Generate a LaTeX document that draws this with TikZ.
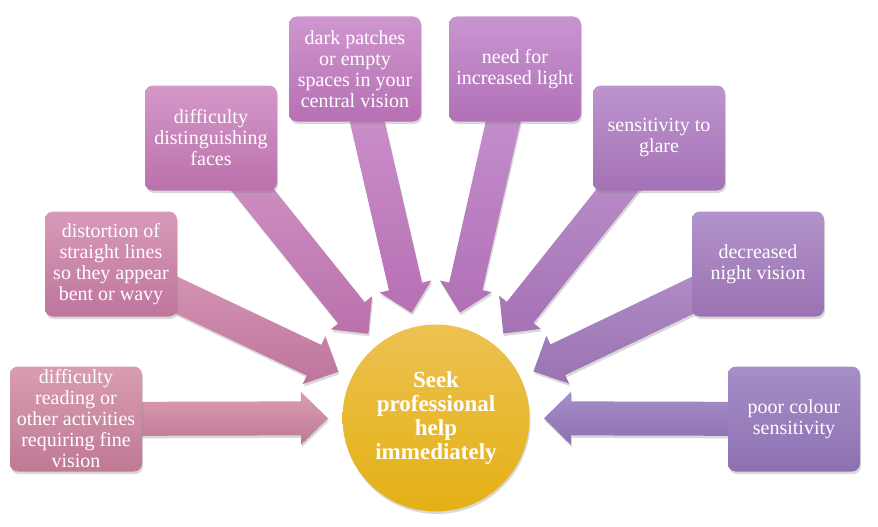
\documentclass[tikz,border=0pt]{standalone}
\usepackage{fontspec}
\setmainfont{Liberation Serif}
\usetikzlibrary{calc,shadows,backgrounds}

\definecolor{topa}{RGB}{217,157,178}
\definecolor{bota}{RGB}{191,121,149}
\definecolor{topb}{RGB}{216,154,184}
\definecolor{botb}{RGB}{190,117,156}
\definecolor{topc}{RGB}{212,152,200}
\definecolor{botc}{RGB}{186,113,172}
\definecolor{topd}{RGB}{207,150,206}
\definecolor{botd}{RGB}{182,112,180}
\definecolor{tope}{RGB}{200,149,208}
\definecolor{bote}{RGB}{177,112,183}
\definecolor{topf}{RGB}{189,148,205}
\definecolor{botf}{RGB}{165,114,181}
\definecolor{topg}{RGB}{178,147,202}
\definecolor{botg}{RGB}{155,114,178}
\definecolor{toph}{RGB}{166,142,200}
\definecolor{both}{RGB}{140,113,177}
\definecolor{hubtop}{RGB}{236,194,82}
\definecolor{hubbot}{RGB}{228,176,20}

\tikzset{
  softshadow/.style={drop shadow={opacity=0.3, shadow xshift=1pt, shadow yshift=-2.5pt}},
  sympbox/.style={rounded corners=8pt, minimum width=132pt, minimum height=105pt,
    align=center, text=white, font=\fontsize{20}{21}\selectfont, softshadow},
  hubnode/.style={circle, minimum size=187pt, align=center, text=white,
    font=\fontsize{23}{24}\selectfont\bfseries, top color=hubtop, bottom color=hubbot, softshadow}
}

\newcommand{\symparrow}[3]{%
  \coordinate (tip) at ($(hub)!108pt!(#1)$);
  \coordinate (neck) at ($(hub)!135pt!(#1)$);
  \shade[top color=#2, bottom color=#3, softshadow]
    ($(#1)!17pt!90:(tip)$) -- ($(neck)!17pt!90:(tip)$) -- ($(neck)!26.5pt!90:(tip)$)
    -- (tip) -- ($(neck)!26.5pt!-90:(tip)$) -- ($(neck)!17pt!-90:(tip)$)
    -- ($(#1)!17pt!-90:(tip)$) -- cycle;
}

\begin{document}
\begin{tikzpicture}[x=1pt, y=-1pt]
    \useasboundingbox (0,0) rectangle (878,527);
    \node[hubnode] (hub) at (436,418) {Seek\\professional\\help\\immediately};
    \node[sympbox, top color=topa, bottom color=bota] (read) at (76,419) {difficulty\\reading or\\other activities\\requiring fine\\vision};
    \node[sympbox, top color=topb, bottom color=botb] (lines) at (111,264) {distortion of\\straight lines\\so they appear\\bent or wavy};
    \node[sympbox, top color=topc, bottom color=botc] (faces) at (211,138) {difficulty\\distinguishing\\faces};
    \node[sympbox, top color=topd, bottom color=botd] (patch) at (355,69) {dark patches\\or empty\\spaces in your\\central vision};
    \node[sympbox, top color=tope, bottom color=bote] (light) at (515,69) {need for\\increased light};
    \node[sympbox, top color=topf, bottom color=botf] (glare) at (659,138) {sensitivity to\\glare};
    \node[sympbox, top color=topg, bottom color=botg] (night) at (758,264) {decreased\\night vision};
    \node[sympbox, top color=toph, bottom color=both] (colour) at (794,419) {poor colour\\sensitivity};
    \begin{pgfonlayer}{background}
        \foreach \from/\ct/\cb in {read/topa/bota, lines/topb/botb, faces/topc/botc, patch/topd/botd,
            light/tope/bote, glare/topf/botf, night/topg/botg, colour/toph/both}
            {\symparrow{\from}{\ct}{\cb}}
    \end{pgfonlayer}
\end{tikzpicture}
\end{document}
